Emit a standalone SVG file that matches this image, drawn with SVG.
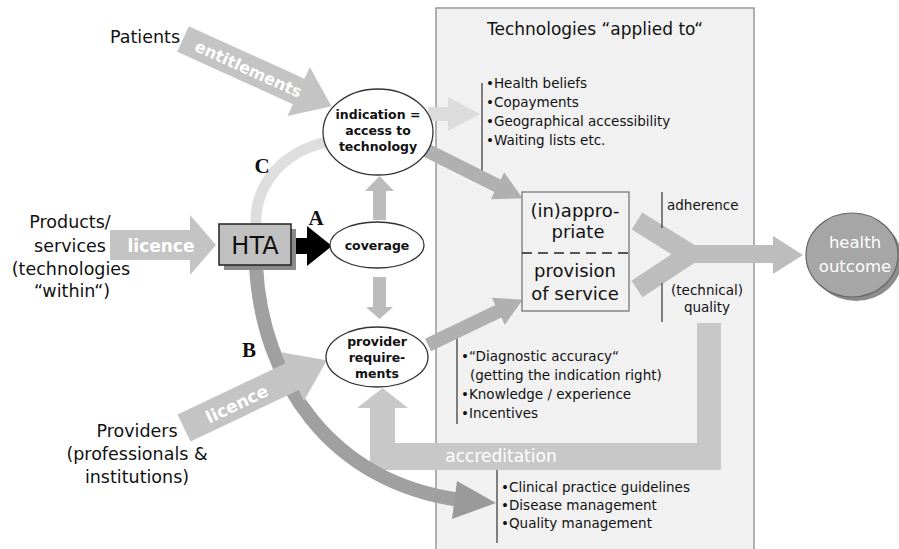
<svg xmlns="http://www.w3.org/2000/svg" width="899" height="549" viewBox="0 0 899 549">
<style>
.t{font-family:"DejaVu Sans","Verdana",sans-serif;fill:#111}
.lab{font-size:17.5px}
.bl{font-size:13.5px}
.eb{font-size:12.5px;font-weight:bold;text-anchor:middle}
.w{fill:#fff}
.let{font-family:"Liberation Serif","Times New Roman",serif;font-weight:bold;font-size:21px;fill:#111;text-anchor:middle}
.vl{stroke:#333;stroke-width:1.2}
.ell{fill:#fff;stroke:#333;stroke-width:1.3}
</style>
<rect width="899" height="549" fill="#fff"/>
<g id="panel">
<rect x="436" y="8" width="318" height="545" fill="#f1f1f1" stroke="#999" stroke-width="1.5"/>
<text class="t" x="595" y="35" font-size="17" text-anchor="middle">Technologies “applied to“</text>
</g>
<g id="list-access">
<line class="vl" x1="482" y1="83" x2="482" y2="173"/>
<text class="t bl" x="486" y="88">•Health beliefs</text>
<text class="t bl" x="486" y="107">•Copayments</text>
<text class="t bl" x="486" y="126">•Geographical accessibility</text>
<text class="t bl" x="486" y="145">•Waiting lists etc.</text>
</g>
<g id="list-provider">
<line class="vl" x1="457" y1="333" x2="457" y2="424"/>
<text class="t bl" x="461" y="361">•“Diagnostic accuracy“</text>
<text class="t bl" x="470" y="380">(getting the indication right)</text>
<text class="t bl" x="461" y="399">•Knowledge / experience</text>
<text class="t bl" x="461" y="418">•Incentives</text>
</g>
<g id="list-guidelines">
<line class="vl" x1="497" y1="470" x2="497" y2="543"/>
<text class="t bl" x="501" y="492">•Clinical practice guidelines</text>
<text class="t bl" x="501" y="510">•Disease management</text>
<text class="t bl" x="501" y="528">•Quality management</text>
</g>
<g id="connectors">
<!-- C arc -->
<path d="M256 226 C254 185 282 152 327 142" fill="none" stroke="#dedede" stroke-width="11"/>
<!-- accreditation -->
<polygon points="697,323 721,323 721,470 370,470 370,408 357,408 382.5,388 408,408 395,408 395,443 697,443" fill="#c8c8c8"/>
<text class="t w" x="501" y="462" font-size="17" text-anchor="middle">accreditation</text>
<!-- B arc -->
<path d="M256 266 C262 380 330 482 460 500" fill="none" stroke="#a0a0a0" stroke-width="14"/>
<polygon points="457,481 496,503 452,519" fill="#9a9a9a"/>
<!-- entitlements -->
<g transform="translate(183,39) rotate(24.4)">
<polygon points="0,-14 127,-14 127,-27 163,0 127,27 127,14 0,14" fill="#c4c4c4"/>
<text class="t w" x="72" y="6" font-size="16" font-weight="bold" text-anchor="middle">entitlements</text>
</g>
<!-- licence products -->
<polygon points="110,230 190,230 190,215 216,245 190,275 190,260 110,260" fill="#c4c4c4"/>
<text class="t w" x="161" y="252" font-size="17" font-weight="bold" text-anchor="middle">licence</text>
<!-- licence providers -->
<g transform="translate(184,428) rotate(-25.4)">
<polygon points="0,-15 120,-15 120,-27 158,0 120,27 120,15 0,15" fill="#c4c4c4"/>
<text class="t w" x="58" y="7" font-size="17" font-weight="bold" text-anchor="middle">licence</text>
</g>
<!-- A black arrow -->
<polygon points="291,238 307,238 307,226 332,246 307,266 307,254 291,254" fill="#000"/>
<!-- coverage up/down -->
<polygon points="373,220 386,220 386,191 394,191 379.5,176 365,191 373,191" fill="#bcbcbc"/>
<polygon points="373,277 386,277 386,307 393,307 379.5,319 366,307 373,307" fill="#bcbcbc"/>
<!-- indication to list -->
<polygon points="428,107 448,107 448,97 480,114 448,131 448,121 428,121" fill="#dcdcdc"/>
<!-- indication to box -->
<g transform="translate(426,150) rotate(26.6)">
<polygon points="0,-7 80,-7 80,-15 108,0 80,15 80,7 0,7" fill="#b0b0b0"/>
</g>
<!-- provider to box -->
<g transform="translate(428,345) rotate(-25.6)">
<polygon points="0,-7 78,-7 78,-15 105,0 78,15 78,7 0,7" fill="#b0b0b0"/>
</g>
<!-- Y merge to health outcome -->
<g fill="none" stroke="#bdbdbd">
<line x1="637" y1="221" x2="690" y2="254" stroke-width="20"/>
<line x1="637" y1="289" x2="690" y2="254" stroke-width="20"/>
<line x1="680" y1="254" x2="775" y2="254" stroke-width="18"/>
</g>
<polygon points="773,236 803,255 773,274" fill="#bdbdbd"/>
<line class="vl" x1="662" y1="192" x2="662" y2="228"/>
<line class="vl" x1="662" y1="283" x2="662" y2="322"/>
<text class="let" x="316" y="225">A</text>
<text class="let" x="249" y="357">B</text>
<text class="let" x="262" y="173">C</text>
</g>
<g id="patients"><text class="t lab" x="110" y="43">Patients</text></g>
<g id="products">
<text class="t lab" x="70" y="228" text-anchor="middle">Products/</text>
<text class="t lab" x="70" y="252" text-anchor="middle">services</text>
<text class="t lab" x="71" y="275" text-anchor="middle">(technologies</text>
<text class="t lab" x="72" y="297" text-anchor="middle">“within“)</text>
</g>
<g id="providers">
<text class="t lab" x="137" y="437" text-anchor="middle">Providers</text>
<text class="t lab" x="137" y="460" text-anchor="middle">(professionals &amp;</text>
<text class="t lab" x="137" y="483" text-anchor="middle">institutions)</text>
</g>
<g id="hta">
<rect x="224" y="229" width="72" height="41" fill="#8a8a8a"/>
<rect x="219" y="224" width="72" height="41" fill="#c0c0c0" stroke="#222" stroke-width="1.5"/>
<text class="t" x="255" y="254" font-size="24" text-anchor="middle">HTA</text>
</g>
<g id="indication">
<ellipse class="ell" cx="378" cy="132" rx="55" ry="43"/>
<text class="t eb" x="378" y="119">indication =</text>
<text class="t eb" x="378" y="135">access to</text>
<text class="t eb" x="378" y="151">technology</text>
</g>
<g id="coverage">
<ellipse class="ell" cx="377" cy="245" rx="47" ry="23"/>
<text class="t eb" x="377" y="250">coverage</text>
</g>
<g id="provider-requirements">
<ellipse class="ell" cx="377" cy="357" rx="51" ry="30"/>
<text class="t eb" x="377" y="346">provider</text>
<text class="t eb" x="377" y="362">require-</text>
<text class="t eb" x="377" y="378">ments</text>
</g>
<g id="provision">
<rect x="522" y="192" width="107" height="119" fill="#f1f1f1" stroke="#777" stroke-width="1.3"/>
<line x1="522" y1="253" x2="629" y2="253" stroke="#222" stroke-width="1.5" stroke-dasharray="10,6"/>
<text class="t" x="575" y="217" font-size="18" text-anchor="middle">(in)appro-</text>
<text class="t" x="578" y="238" font-size="18" text-anchor="middle">priate</text>
<text class="t" x="575" y="277" font-size="18" text-anchor="middle">provision</text>
<text class="t" x="575" y="300" font-size="18" text-anchor="middle">of service</text>
</g>
<g id="adherence"><text class="t bl" x="667" y="210">adherence</text></g>
<g id="quality">
<text class="t bl" x="707" y="295" text-anchor="middle">(technical)</text>
<text class="t bl" x="707" y="312" text-anchor="middle">quality</text>
</g>
<g id="health-outcome">
<ellipse cx="856" cy="259" rx="46" ry="42" fill="#8c8c8c"/>
<ellipse cx="852" cy="255" rx="46" ry="42" fill="#a6a6a6" stroke="#666" stroke-width="1.2"/>
<text class="t w" x="855" y="248" font-size="16.5" text-anchor="middle">health</text>
<text class="t w" x="855" y="272" font-size="16.5" text-anchor="middle">outcome</text>
</g>
</svg>
